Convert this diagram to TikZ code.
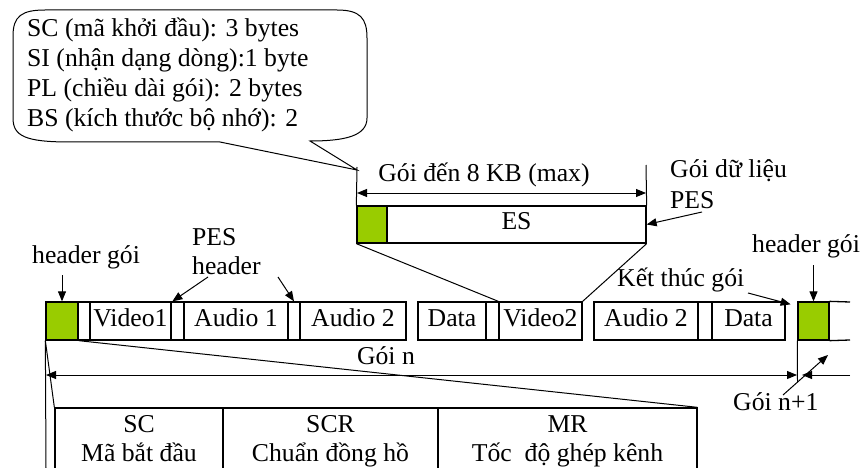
\documentclass[tikz,border=0pt]{standalone}
\usepackage{fontspec}
\setmainfont{Liberation Serif}
\usetikzlibrary{arrows.meta,calc}
\definecolor{hdrgreen}{RGB}{153,204,0}

\begin{document}
\begin{tikzpicture}[x=1pt,y=-1pt,
  font=\fontsize{25.7}{29.7}\selectfont,
  ln/.style={line width=1pt},
  arr/.style={line width=1pt,-{Triangle[length=10pt,width=8pt]}},
  dbl/.style={line width=1pt,{Triangle[length=10pt,width=8pt]}-{Triangle[length=10pt,width=8pt]}},
  cell/.style={draw,line width=1.3pt,minimum height=38pt,inner sep=0pt,
               text height=24pt,text depth=14pt},
  hdr/.style={cell,fill=hdrgreen},
  pesrow/.style={minimum height=37pt,text height=23pt,text depth=14pt},
  tcell/.style={draw,line width=1.3pt,minimum height=82pt,inner sep=0pt},
  lbl/.style={inner sep=0pt,anchor=base west},
  ctr/.style={inner sep=0pt,anchor=base},
]
\path[use as bounding box,clip] (0,0) rectangle (862,468);

% ---- callout with the PES header fields
\coordinate (tip) at (357,170);
\draw[ln,line join=miter] (220,142) -- (70,142)
      .. controls (25,142) and (13,136) .. (13,118)
      -- (13,36) .. controls (13,16) and (22,10) .. (45,10)
      -- (337,10) .. controls (360,10) and (367,18) .. (367,38)
      -- (367,118) .. controls (367,136) and (345,141) .. (310,141)
      -- (tip) -- cycle;
\node[lbl] (t1) at (27,37)  {SC (mã khởi đầu): 3 bytes};
\node[lbl] (t2) at (27,67)  {SI (nhận dạng dòng):1 byte};
\node[lbl] (t3) at (27,97)  {PL (chiều dài gói): 2 bytes};
\node[lbl] (t4) at (27,127) {BS (kích thước bộ nhớ): 2};

% ---- PES packet
\node[hdr,pesrow,minimum width=30pt] (pg) at (372,224.5) {};
\node[cell,pesrow,minimum width=259pt] (es) at (516.5,224.5) {ES};

\coordinate (dl) at (357,167);
\coordinate (dr) at (646,165);
\draw[ln] (dl) -- (pg.north west);
\draw[ln] (dr) -- (es.north east);
\coordinate (al) at (357,193);
\coordinate (ar) at (646,193);
\draw[dbl] (al) -- (ar);
\node[ctr] (lenlbl) at (484,182) {Gói đến 8 KB (max)};

\node[lbl] (pd1) at (670,178) {Gói dữ liệu};
\node[lbl] (pd2) at (670,208) {PES};
\coordinate (pda) at (702,212);
\draw[arr] (pda) -- (es.east);

% ---- program stream row
\node[hdr,minimum width=32pt]   (g1) at (62,321) {};
\node[cell,minimum width=12pt]  (s1) at (84,321) {};
\node[cell,minimum width=81pt]  (v1) at (130.5,321) {Video1};
\node[cell,minimum width=13pt]  (s2) at (177.5,321) {};
\node[cell,minimum width=104pt] (a1) at (236,321) {Audio 1};
\node[cell,minimum width=12pt]  (s3) at (294,321) {};
\node[cell,minimum width=106pt] (a2) at (353,321) {Audio 2};
\node[cell,minimum width=68pt]  (d1) at (452,321) {Data};
\node[cell,minimum width=13pt]  (s4) at (492.5,321) {};
\node[cell,minimum width=83pt]  (v2) at (540.5,321) {Video2};
\node[cell,minimum width=104pt] (a3) at (646,321) {Audio 2};
\node[cell,minimum width=14pt]  (s5) at (705,321) {};
\node[cell,minimum width=73pt]  (d2) at (748.5,321) {Data};
\node[hdr,minimum width=31pt]   (g2) at (813.5,321) {};
\coordinate (ot) at (850,302);
\coordinate (ob) at (850,340);
\draw[line width=1.3pt] (g2.north east) -- (ot);
\draw[line width=1.3pt] (g2.south east) -- (ob);

% PES packet expands into Video2
\draw[ln] (pg.south west) -- (v2.north west);
\draw[ln] (es.south east) -- (v2.north east);

% ---- labels above the row
\node[lbl] (hg1) at (32,263) {header gói};
\coordinate (hg1a) at (62,275);
\draw[arr] (hg1a) -- (g1.north);

\node[lbl] (ph1) at (192,245) {PES};
\node[lbl] (ph2) at (192,274) {header};
\coordinate (ph2a) at (208,277);
\coordinate (ph2b) at (278,277);
\draw[arr] (ph2a) -- ($(s2.north west)+(2,0)$);
\draw[arr] (ph2b) -- (s3.north);

\node[lbl] (hg2) at (752,252) {header gói};
\coordinate (hg2a) at (813.5,265);
\draw[arr] (hg2a) -- (g2.north);

\node[lbl] (ktg) at (617,286) {Kết thúc gói};
\coordinate (ktga) at (748,293);
\draw[arr] (ktga) -- ($(d2.north east)+(5,3)$);

% ---- pack extent
\coordinate (lbot) at (46,468);
\draw[ln] (g1.south west) -- (lbot);
\coordinate (rv) at (797.5,382);
\draw[ln] (g2.south west) -- (rv);
\coordinate (nl) at (46,375);
\coordinate (nr) at (797,375);
\draw[dbl] (nl) -- (nr);
\node[ctr] (goin) at (386,364) {Gói n};

\coordinate (n1r) at (850,375);
\coordinate (n1t) at (802,375);
\draw[arr] (n1r) -- (n1t);
\node[lbl] (goin1) at (733,410) {Gói n+1};
\coordinate (dga) at (783,395);
\coordinate (dgb) at (828,355);
\draw[arr] (dga) -- (dgb);

% ---- pack header fields
\node[tcell,minimum width=168pt] (tc1) at (139,449) {};
\node[tcell,minimum width=215pt] (tc2) at (330.5,449) {};
\node[tcell,minimum width=259pt] (tc3) at (567.5,449) {};
\draw[ln] (g1.south west) -- (tc1.north west);
\draw[ln] (g1.south east) -- (tc3.north east);

\node[ctr] (sc)   at (139,432)   {SC};
\node[ctr] (sc2)  at (139,461)   {Mã bắt đầu};
\node[ctr] (scr)  at (330.5,432) {SCR};
\node[ctr] (scr2) at (330.5,461) {Chuẩn đồng hồ};
\node[ctr] (mr)   at (567.5,432) {MR};
\node[ctr] (mr2)  at (567.5,461) {Tốc\ \ độ ghép kênh};
\end{tikzpicture}
\end{document}
